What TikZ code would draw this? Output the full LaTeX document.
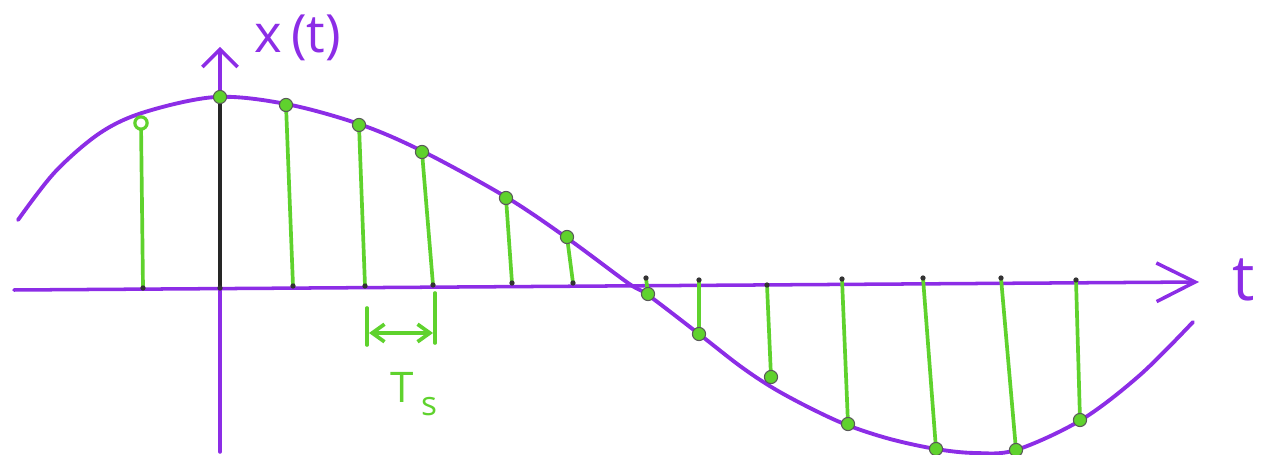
\documentclass[tikz,border=0pt]{standalone}
\usepackage{fontspec}
\setmainfont{Open Sans}
\usetikzlibrary{arrows.meta}
\definecolor{violetline}{RGB}{140,45,230}
\definecolor{stemgreen}{RGB}{95,210,45}
\begin{document}
\begin{tikzpicture}[x=0.02cm,y=-0.02cm,
  curve/.style={violetline,line width=2.2pt,line cap=round},
  axisline/.style={violetline,line width=2pt,line cap=round},
  stemline/.style={stemgreen,line width=2.1pt,line cap=round},
  sampledot/.style={circle,fill=stemgreen,draw=black!65,line width=0.6pt,inner sep=0pt,minimum size=7.5pt},
  opendot/.style={circle,fill=white,draw=stemgreen,line width=1.8pt,inner sep=0pt,minimum size=7pt},
  basedot/.style={circle,fill=black!80,inner sep=0pt,minimum size=3pt},
  axistip/.style={-{Straight Barb[length=22pt,width=22pt,line width=2pt]}},
  vaxistip/.style={-{Straight Barb[length=10pt,width=20pt,line width=2pt]}},
  tsarrow/.style={stemline,{Straight Barb[length=7pt,width=10pt]}-{Straight Barb[length=7pt,width=10pt]}},
  purplelabel/.style={text=violetline,font=\fontsize{30}{34}\selectfont,inner sep=0pt},
  greenlabel/.style={text=stemgreen,font=\fontsize{24}{28}\selectfont,inner sep=0pt}]
\useasboundingbox (0,0) rectangle (1266,455);
% axes
\coordinate (hl) at (14,290);
\coordinate (hr) at (1199,282);
\coordinate (vb) at (220,452);
\coordinate (vt) at (220,47);
\draw[axisline,axistip] (hl) -- (hr);
\draw[axisline,vaxistip] (vb) -- (vt);
% signal
\draw[curve] plot[smooth,tension=0.55] coordinates {(18,220) (55,172) (100,133) (145,112) (216,97) (286,104) (359,124) (422,151) (506,197) (567,238) (628,283) (648,295) (699,334) (740,366) (773,388) (810,408) (847,425) (890,439) (936,449) (975,453) (1016,450) (1081,420) (1140,375) (1193,322)};
% stem at t = 0
\coordinate (top0) at (220,97);
\coordinate (bot0) at (220,288);
\draw[black!85,line width=2pt] (top0) -- (bot0);
\node[sampledot] at (top0) {};
\node[basedot] at (bot0) {};
% positive stems (dot on top)
\foreach \i/\xa/\ya/\xb/\yb in {1/141/123/143/288, 2/286/105/293/286, 3/359/125/365/286, 4/422/152/433/285, 5/506/198/512/283, 6/567/237/573/283}{
  \coordinate (top\i) at (\xa,\ya);
  \coordinate (bot\i) at (\xb,\yb);
  \draw[stemline] (top\i) -- (bot\i);
  \node[basedot] at (bot\i) {};
}
\node[opendot] at (top1) {};
\foreach \i in {2,...,6}{\node[sampledot] at (top\i) {};}
% negative stems (dot at bottom)
\foreach \i/\xa/\ya/\xb/\yb in {7/646/278/648/294, 8/699/280/699/334, 9/767/285/771/377, 10/842/279/848/424, 11/923/278/936/449, 12/1001/278/1016/450, 13/1076/280/1080/420}{
  \coordinate (top\i) at (\xa,\ya);
  \coordinate (bot\i) at (\xb,\yb);
  \draw[stemline] (top\i) -- (bot\i);
  \node[basedot] at (top\i) {};
  \node[sampledot] at (bot\i) {};
}
% sampling interval
\coordinate (tsla) at (367,308);
\coordinate (tslb) at (367,345);
\coordinate (tsra) at (435,293);
\coordinate (tsrb) at (435,343);
\coordinate (tsl) at (369,333);
\coordinate (tsr) at (433,333);
\draw[stemline] (tsla) -- (tslb);
\draw[stemline] (tsra) -- (tsrb);
\draw[tsarrow] (tsl) -- (tsr);
\node[greenlabel] (ts) at (414,394) {T\,\raisebox{-7pt}{\fontsize{19}{20}\selectfont s}};
% labels
\node[purplelabel] (xt) at (298,38) {x\,(t)};
\node[purplelabel,anchor=west,font=\fontsize{36}{40}\selectfont] (tlabel) at (1232,280) {t};
\end{tikzpicture}
\end{document}
